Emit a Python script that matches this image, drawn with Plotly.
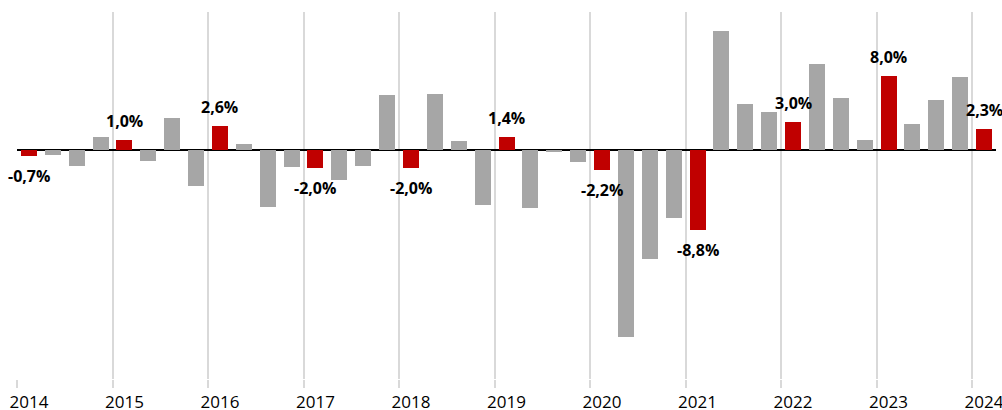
import plotly.graph_objects as go

years = ["2014", "2015", "2016", "2017", "2018", "2019", "2020", "2021", "2022", "2023", "2024"]
quarters = [f"{y} Q{q}" for y in years[:-1] for q in (1, 2, 3, 4)] + ["2024 Q1"]

values = [
    -0.7, -0.6, -1.8, 1.4,
    1.0, -1.2, 3.4, -4.0,
    2.6, 0.6, -6.2, -1.9,
    -2.0, -3.3, -1.8, 6.0,
    -2.0, 6.1, 0.9, -6.0,
    1.4, -6.4, -0.3, -1.4,
    -2.2, -20.4, -11.9, -7.4,
    -8.8, 12.9, 5.0, 4.1,
    3.0, 9.3, 5.6, 1.1,
    8.0, 2.8, 5.4, 7.9,
    2.3,
]

GRAY = "#a6a6a6"
RED = "#c00000"

xs = list(range(len(quarters)))
colors = [RED if q.endswith("Q1") else GRAY for q in quarters]

fig = go.Figure()
fig.add_trace(go.Bar(
    x=xs, y=values, marker=dict(color=colors, line=dict(width=0)),
    width=0.67, hovertext=quarters, showlegend=False,
))

for i, (q, v) in enumerate(zip(quarters, values)):
    if q.endswith("Q1"):
        label = f"{v:.1f}%".replace(".", ",")
        fig.add_annotation(
            x=i, y=v, text=f"<b>{label}</b>", showarrow=False,
            yshift=19 if v >= 0 else -20, yanchor="middle",
            font=dict(family="Open Sans", size=16, color="#000000"),
        )

label_pos = [i for i, q in enumerate(quarters) if q.endswith("Q1")]

fig.update_layout(
    template="none",
    width=1002, height=410,
    margin=dict(l=17, r=6, t=12, b=31, autoexpand=False),
    paper_bgcolor="white", plot_bgcolor="white",
    bargap=0,
    xaxis=dict(
        automargin=False,
        range=[-0.5, 40.5],
        tickmode="array", tickvals=label_pos, ticktext=years,
        ticks="outside", ticklen=8, tickcolor="rgba(0,0,0,0)",
        ticklabeloverflow="allow",
        showgrid=False, zeroline=False, showline=False,
        tickfont=dict(family="Open Sans", size=17, color="#000000"),
        minor=dict(tickmode="linear", tick0=-0.5, dtick=4, showgrid=True,
                   gridcolor="#d9d9d9", gridwidth=2, ticks="outside",
                   ticklen=8, tickcolor="#d9d9d9", tickwidth=2),
    ),
    yaxis=dict(
        automargin=False,
        range=[-25, 15], showgrid=False, showticklabels=False,
        zeroline=True, zerolinecolor="#000000", zerolinewidth=2,
        showline=False, ticks="",
    ),
)

fig.write_html("out.html", config={"displayModeBar": False},
               post_script="document.body.style.margin='0';")
